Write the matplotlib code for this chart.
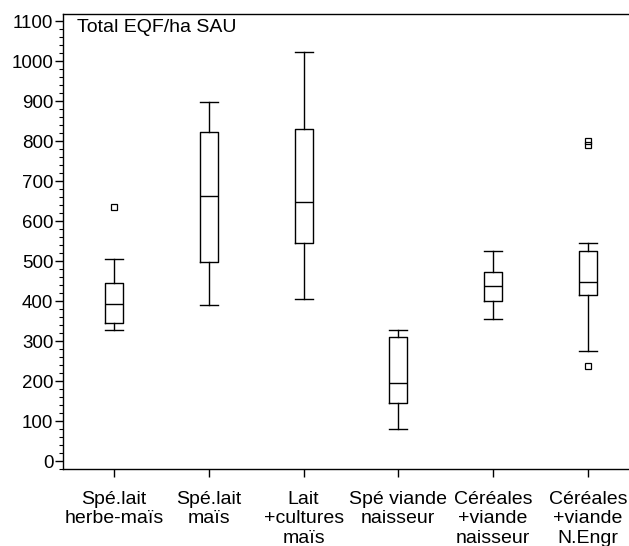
import matplotlib
matplotlib.use("Agg")
import matplotlib.pyplot as plt
from matplotlib.ticker import MultipleLocator, AutoMinorLocator
from matplotlib.transforms import IdentityTransform

plt.rcParams['font.family'] = ['Liberation Sans', 'DejaVu Sans']

categories = ["Spé.lait\nherbe-maïs", "Spé.lait\nmaïs", "Lait\n+cultures\nmaïs",
              "Spé viande\nnaisseur", "Céréales\n+viande\nnaisseur", "Céréales\n+viande\nN.Engr"]
whis_low = [327, 391, 404, 80, 354, 275]
q1 = [344, 498, 544, 144, 400, 415]
medians = [392, 663, 647, 194, 437, 448]
q3 = [444, 823, 829, 311, 472, 526]
whis_high = [505, 898, 1023, 327, 526, 544]
outliers = [[636], [], [], [], [], [237, 790, 800]]
y_label = "Total EQF/ha SAU"

stats = []
for i in range(len(categories)):
    stats.append(dict(med=medians[i], q1=q1[i], q3=q3[i], whislo=whis_low[i],
                      whishi=whis_high[i], fliers=outliers[i], label=categories[i]))

W, H = 629, 546
fig = plt.figure(figsize=(W / 100, H / 100), dpi=100)
ax = fig.add_axes([63 / W, 77 / H, 1 - 63 / W, 455 / H])

lw = 1.0
ax.bxp(stats, positions=range(1, len(categories) + 1), widths=0.19, capwidths=0.19,
       boxprops=dict(color='black', linewidth=lw),
       whiskerprops=dict(color='black', linewidth=lw),
       capprops=dict(color='black', linewidth=lw),
       medianprops=dict(color='black', linewidth=lw),
       flierprops=dict(marker='s', markersize=5, markerfacecolor='none',
                       markeredgecolor='black', markeredgewidth=0.9))

ax.set_xlim(0.462, 6.433)
ax.set_ylim(-20, 1117.5)
ax.yaxis.set_major_locator(MultipleLocator(100))
ax.yaxis.set_minor_locator(AutoMinorLocator(5))
ax.set_xticks(range(1, len(categories) + 1))
ax.set_xticklabels(categories, linespacing=1.17, fontsize=14)
ax.tick_params(axis='both', which='major', direction='out', length=6, width=1,
               colors='black')
ax.tick_params(axis='y', which='major', pad=1, labelsize=13.5)
ax.tick_params(axis='x', which='major', pad=10)
ax.tick_params(axis='y', which='minor', direction='out', length=3, width=0.8)
ax.spines['right'].set_visible(False)
for s in ['left', 'bottom', 'top']:
    ax.spines[s].set_linewidth(1.0)
    ax.spines[s].set_color('black')

ax.text(77, H - 27, y_label, transform=IdentityTransform(), fontsize=14,
        va='center', ha='left')

fig.savefig("out.png", dpi=100)
